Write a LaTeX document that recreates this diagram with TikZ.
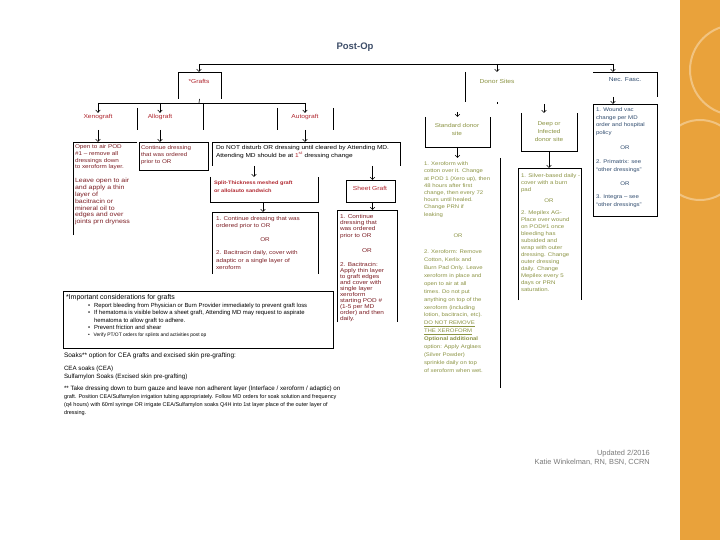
\documentclass[tikz,border=0pt]{standalone}
\usepackage{fontspec}
\setmainfont{Liberation Sans}
\newfontfamily\wf[FakeStretch=1.15]{Liberation Sans}
\usetikzlibrary{arrows.meta}
\definecolor{gred}{HTML}{B0262E}
\definecolor{dred}{HTML}{7D1F25}
\definecolor{olv}{HTML}{8C9444}
\definecolor{nvy}{HTML}{2F4B6E}
\definecolor{ttl}{HTML}{3E4E69}
\definecolor{orng}{HTML}{E9A23B}
\definecolor{crg}{HTML}{7A7A7A}
\newcommand{\fz}[2]{\fontsize{#1}{#2}\selectfont}
\newcommand{\frm}[5]{\node[frame, minimum width=#4pt, minimum height=#5pt] (#1) at (#2,#3) {};}
\begin{document}
\begin{tikzpicture}[x=1pt,y=-1pt,
  ln/.style={line width=0.6pt},
  arr/.style={line width=0.6pt,-{Straight Barb[length=2.4pt,width=4.6pt]}},
  frame/.style={inner sep=0pt,outer sep=0pt,anchor=north west},
  tx/.style={inner sep=0pt,outer sep=0pt,anchor=north west,align=left},
  ctr/.style={inner sep=0pt,outer sep=0pt,align=center},
  lbl/.style={inner sep=0pt,outer sep=0pt,align=center,font=\wf\fz{5.8}{7}}]
\useasboundingbox (0,0) rectangle (720,540);
\fill[white] (0,0) rectangle (720,540);
\begin{scope}
\clip (680,0) rectangle (720,540);
\fill[orng] (680,0) rectangle (720,540);
\draw[orng!65!white,line width=2pt] (735,70) circle (45);
\draw[orng!65!white,line width=2pt] (700,160) circle (40);
\end{scope}
% ---------- top level
\node[font=\bfseries\fz{9.5}{11},text=ttl] (title) at (355,47) {Post-Op};
\coordinate (tA) at (199,64); \coordinate (tB) at (497,64); \coordinate (tC) at (613,64);
\draw[ln] (tA) -- (tC);
\frm{grF}{178}{72}{43}{27}
\frm{dnF}{465}{72}{64}{30}
\frm{nfF}{593}{72}{64}{25}
\draw[arr] (tA) -- (tA |- grF.north);
\draw[arr] (tB) -- (tB |- dnF.north);
\draw[arr] (tC) -- (tC |- nfF.north);
\draw[ln] (grF.south west) -- (grF.north west) -- (grF.north east) -- (grF.south east);
\draw[ln] (dnF.north west) -- (dnF.south west);
\draw[ln] (nfF.north west) -- (nfF.north east) -- (nfF.south east);
\node[lbl,text=gred] (grL) at (199,81) {*Grafts};
\node[lbl,text=olv] (dnL) at (497,81) {Donor Sites};
\node[lbl,text=nvy] (nfL) at (625,80) {Nec. Fasc.};
% ---------- graft types
\coordinate (gJ) at (199,103); \coordinate (gX) at (98,103);
\coordinate (gY) at (160,103); \coordinate (gZ) at (305,103);
\draw[ln] (grF.south) -- (gJ);
\draw[ln] (gX) -- (gZ);
\node[lbl,text=gred] (xnL) at (98,117) {Xenograft};
\node[lbl,text=gred] (alL) at (160,117) {Allograft};
\node[lbl,text=gred] (auL) at (305,117) {Autograft};
\draw[arr,shorten >=1.5pt] (gX) -- (xnL.north);
\draw[arr,shorten >=1.5pt] (gY) -- (alL.north);
\draw[arr,shorten >=1.5pt] (gZ) -- (auL.north);
\frm{alLF}{137}{108}{66}{22}
\frm{auLF}{277}{108}{56}{22}
\draw[ln] (alLF.north west) -- (alLF.south west);
\draw[ln] (alLF.east |- gJ) -- (alLF.south east);
\draw[ln] (auLF.north west) -- (auLF.south west);
\draw[ln] (auLF.north east) -- (auLF.south east);
% ---------- row 3 boxes
\frm{xnF}{73}{142}{64}{93}
\frm{alF}{139}{142}{69}{28}
\frm{doF}{212}{142}{188}{24}
\draw[arr] (xnL.south |- alLF.south) -- (xnL.south |- xnF.north);
\draw[arr] (alL.south |- alLF.south) -- (alL.south |- alF.north);
\draw[arr] (auL.south |- auLF.south) -- (auL.south |- doF.north);
\draw[ln] (xnF.south west) -- (xnF.north west) -- (xnF.north east);
\draw[ln] (alF.north west) rectangle (alF.south east);
\draw[ln] (doF.south west) -- (doF.north west) -- (doF.north east) -- (doF.south east);
\node[tx,text=dred,font=\wf\fz{5.5}{6.6}] (xnT1) at (75,145) {Open to air POD\\\#1 – remove all\\dressings down\\to xeroform layer.};
\node[tx,text=dred,font=\wf\fz{6.1}{6.9}] (xnT2) at (75,178) {Leave open to air\\and apply a thin\\layer of\\bacitracin or\\mineral oil to\\edges and over\\joints prn dryness};
\node[tx,text=dred,font=\wf\fz{5.4}{6.6}] (alT) at (141,146) {Continue dressing\\that was ordered\\prior to OR};
\node[tx,font=\wf\fz{5.7}{8}] (doT) at (216,145) {Do NOT disturb OR dressing until cleared by Attending MD.\\Attending MD should be at \textcolor{gred}{1\textsuperscript{st}} dressing change};
% ---------- autograft split
\frm{spF}{210}{177}{108}{25}
\frm{shF}{346}{180}{49}{22}
\draw[arr] ([xshift=-10pt]spF.north |- doF.south) -- ([xshift=-10pt]spF.north);
\draw[arr] ([xshift=2pt]shF.north |- doF.south) -- ([xshift=2pt]shF.north);
\draw[ln] (spF.north west) -- (spF.south west) -- (spF.south east) -- (spF.north east);
\draw[ln] (shF.north west) rectangle (shF.south east);
\node[tx,text=gred,font=\wf\bfseries\fz{4.9}{7.5}] (spT) at (214,181) {Split-Thickness meshed graft\\or allo/auto sandwich};
\node[lbl,text=gred] (shT) at (370,188) {Sheet Graft};
\frm{spoF}{212}{212}{106}{62}
\frm{shoF}{337}{210}{60}{112}
\draw[arr] ([xshift=-2pt]spoF.north |- spF.south) -- ([xshift=-2pt]spoF.north);
\draw[arr] ([xshift=2pt]shF.south) -- ([xshift=2pt]shF.south |- shoF.north);
\draw[ln] (spoF.south west) -- (spoF.north west) -- (spoF.north east) -- (spoF.south east);
\draw[ln] (shoF.south west) -- (shoF.north west) -- (shoF.north east) -- (shoF.south east);
\node[tx,text=dred,font=\wf\fz{5.5}{7}] (spoT1) at (216,217) {1. Continue dressing that was\\ordered prior to OR};
\node[ctr,text=dred,font=\wf\fz{5.5}{7}] (spoOR) at (265,240) {OR};
\node[tx,text=dred,font=\wf\fz{5.5}{7.2}] (spoT2) at (216,251) {2. Bacitracin daily, cover with\\adaptic or a single layer of\\xeroform};
\node[tx,text=dred,font=\wf\fz{5.6}{6.4}] (shoT1) at (340,214) {1. Continue\\dressing that\\was ordered\\prior to OR};
\node[ctr,text=dred,font=\wf\fz{5.6}{6.4}] (shoOR) at (367,251) {OR};
\node[tx,text=dred,font=\wf\fz{5.6}{6.1}] (shoT2) at (340,262) {2. Bacitracin:\\Apply thin layer\\to graft edges\\and cover with\\single layer\\xeroform\\starting POD \#\\(1-5 per MD\\order) and then\\daily.};
% ---------- donor sites
\coordinate (dJ) at (497,104);
\draw[ln] (dnF.south) -- (dJ);
\frm{sdF}{425}{117}{65}{30}
\frm{dpF}{521}{113}{56}{38}
\draw[arr] ([yshift=5pt]sdF.north) -- (sdF.north);
\draw[arr] ([xshift=-5pt]dpF.north |- dJ) -- ([xshift=-5pt]dpF.north);
\draw[ln] (sdF.north west) -- (sdF.south west) -- (sdF.south east) -- (sdF.north east);
\draw[ln] (dpF.north west) -- (dpF.south west) -- (dpF.south east) -- (dpF.north east);
\node[lbl,text=olv,font=\wf\fz{5.6}{8}] (sdT) at (457,129) {Standard donor\\site};
\node[lbl,text=olv,font=\wf\fz{5.6}{8}] (dpT) at (549,132) {Deep or\\Infected\\donor site};
\frm{sdoF}{420}{158}{80}{230}
\frm{dpoF}{518}{168}{63}{132}
\draw[arr] (sdF.south) -- (sdF.south |- sdoF.north);
\draw[arr] (dpF.south) -- (dpF.south |- dpoF.north);
\draw[ln] (sdoF.north east) -- (sdoF.south east);
\draw[ln] (dpoF.south west) -- (dpoF.north west) -- (dpoF.north east) -- (dpoF.south east);
\node[tx,text=olv,font=\wf\fz{5.2}{7.2}] (sdoT1) at (424,162) {1. Xeroform with\\cotton over it. Change\\at POD 1 (Xero up), then\\48 hours after first\\change, then every 72\\hours until healed.\\Change PRN if\\leaking};
\node[ctr,text=olv,font=\wf\fz{5.2}{7}] (sdoOR) at (458,236) {OR};
\node[tx,text=olv,font=\wf\fz{5.2}{7.9}] (sdoT2) at (424,250) {2. Xeroform: Remove\\Cotton, Kerlix and\\Burn Pad Only. Leave\\xeroform in place and\\open to air at all\\times. Do not put\\anything on top of the\\xeroform (including\\lotion, bacitracin, etc).\\\underline{DO NOT REMOVE}\\\underline{THE XEROFORM}\\\textbf{Optional additional}\\option: Apply Arglaes\\(Silver Powder)\\sprinkle daily on top\\of xeroform when wet.};
\node[tx,text=olv,font=\wf\fz{5.3}{7}] (dpoT1) at (521,174) {1. Silver-based daily -\\cover with a burn\\pad};
\node[ctr,text=olv,font=\wf\fz{5.3}{7}] (dpoOR) at (549,201) {OR};
\node[tx,text=olv,font=\wf\fz{5.3}{7}] (dpoT2) at (521,211) {2. Mepilex AG-\\Place over wound\\on POD\#1 once\\bleeding has\\subsided and\\wrap with outer\\dressing. Change\\outer dressing\\daily. Change\\Mepilex every 5\\days or PRN\\saturation.};
% ---------- nec fasc
\frm{nfoF}{593}{104}{64}{112}
\draw[arr] (tC |- nfF.south) -- (tC |- nfoF.north);
\draw[ln] (nfoF.north west) rectangle (nfoF.south east);
\node[tx,text=nvy,font=\wf\fz{5.3}{7.4}] (nfoT1) at (596,108) {1. Wound vac\\change per MD\\order and hospital\\policy};
\node[ctr,text=nvy,font=\wf\fz{5.3}{7}] (nfoOR1) at (625,148) {OR};
\node[tx,text=nvy,font=\wf\fz{5.3}{7.4}] (nfoT2) at (596,160) {2. Primatrix: see\\“other dressings”};
\node[ctr,text=nvy,font=\wf\fz{5.3}{7}] (nfoOR2) at (625,184) {OR};
\node[tx,text=nvy,font=\wf\fz{5.3}{7.4}] (nfoT3) at (596,195) {3. Integra – see\\“other dressings”};
% ---------- considerations
\frm{icF}{63}{291}{270}{57}
\draw[ln] (icF.north west) rectangle (icF.south east);
\node[tx,font=\fz{7}{7}] (icT) at (66,294) {*Important considerations for grafts};
\node[tx,font=\fz{5.9}{7.4}] (icB) at (88,303) {\textbullet\hspace{4pt}Report bleeding from Physician or Burn Provider immediately to prevent graft loss\\\textbullet\hspace{4pt}If hematoma is visible below a sheet graft, Attending MD may request to aspirate\\\phantom{\textbullet}\hspace{4pt}hematoma to allow graft to adhere.\\\textbullet\hspace{4pt}Prevent friction and shear\\{\fz{4.9}{7.4}\textbullet\hspace{4pt}Verify PT/OT orders for splints and activities post op}};
% ---------- soaks
\node[tx,font=\fz{6.5}{7}] (soT) at (64,353) {Soaks** option for CEA grafts and excised skin pre-grafting:};
\node[tx,font=\fz{6.2}{7.6}] (soA) at (64,366) {CEA soaks (CEA)\\Sulfamylon Soaks (Excised skin pre-grafting)};
\node[tx,font=\fz{6.2}{7}] (soN1) at (64,386) {** Take dressing down to burn gauze and leave non adherent layer (Interface / xeroform / adaptic) on};
\node[tx,font=\fz{5.5}{8}] (soN2) at (64,395) {graft. Position CEA/Sulfamylon irrigation tubing appropriately. Follow MD orders for soak solution and frequency\\(q4 hours) with 60ml syringe OR irrigate CEA/Sulfamylon soaks Q4H into 1st layer place of the outer layer of\\dressing.};
% ---------- credits
\node[anchor=north east,inner sep=0pt,align=right,font=\fz{7.4}{9},text=crg] (cr) at (650,450) {Updated 2/2016\\Katie Winkelman, RN, BSN, CCRN};
\end{tikzpicture}
\end{document}
